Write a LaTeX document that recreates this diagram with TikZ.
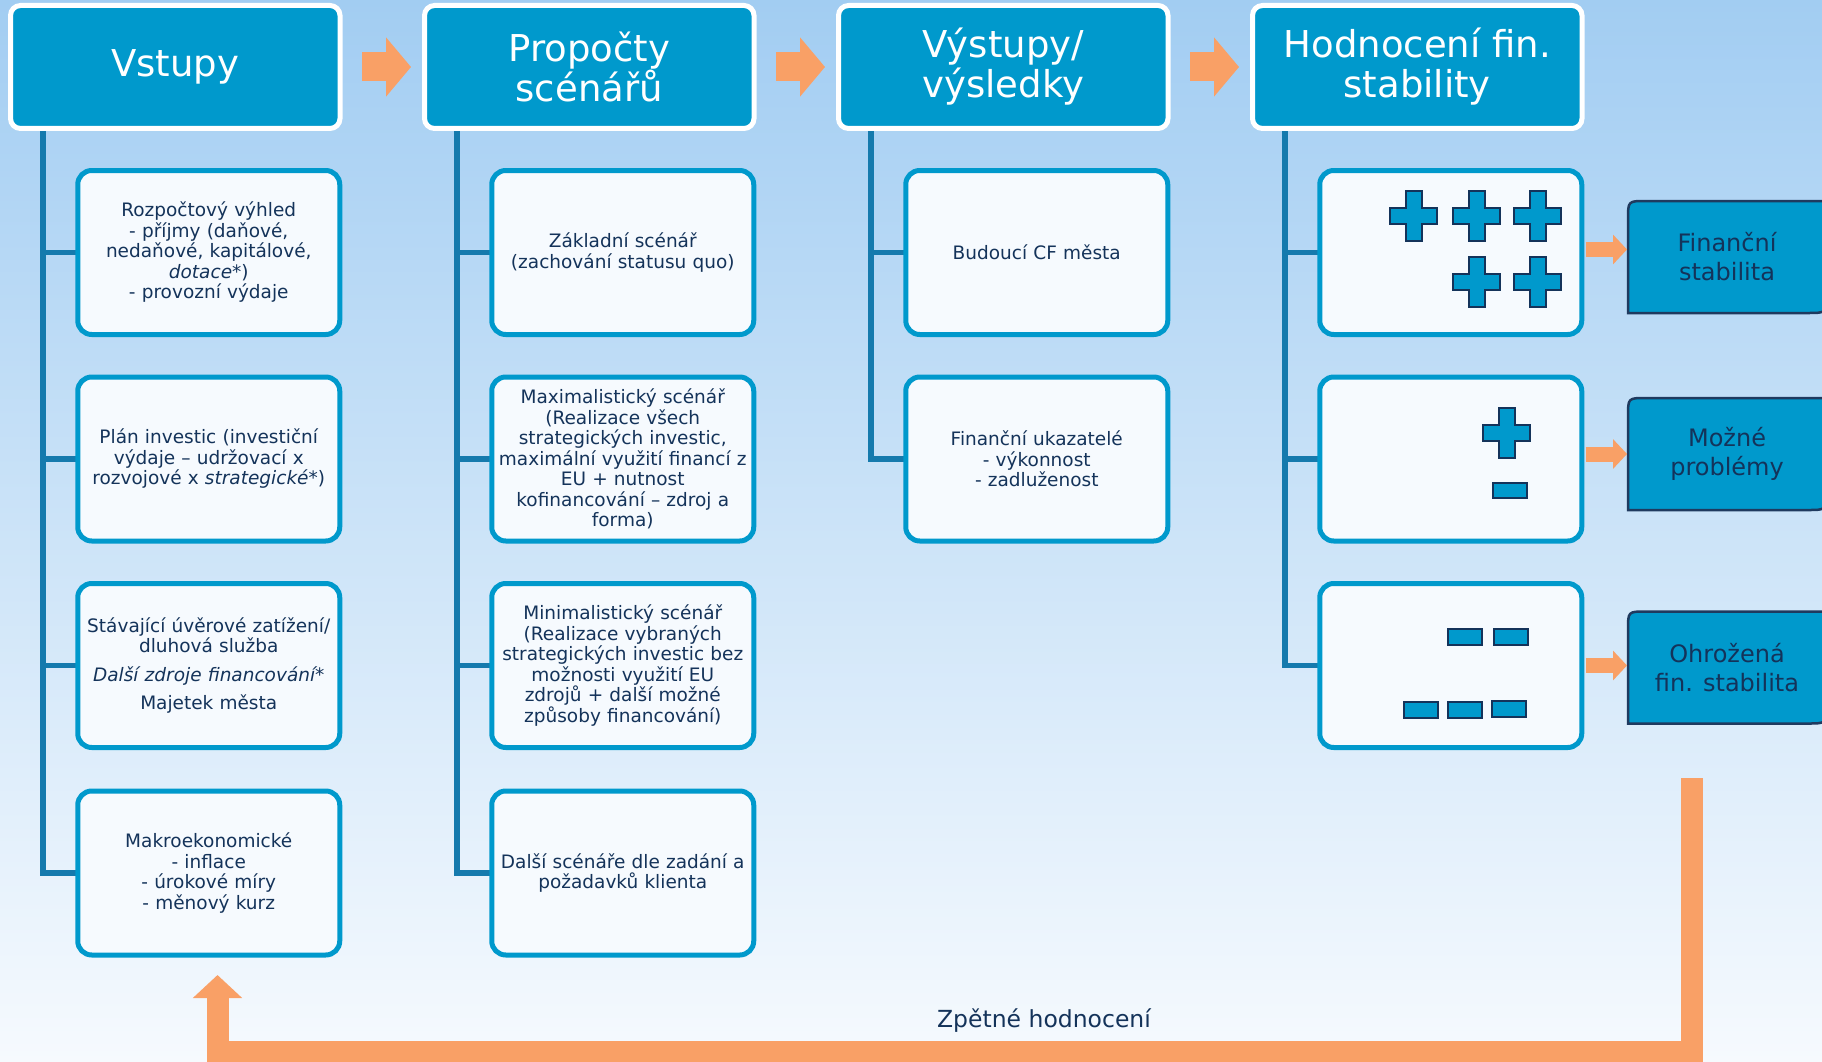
\documentclass[tikz,border=0pt]{standalone}
\usepackage{fontspec}
\setmainfont{DejaVu Sans}
\usetikzlibrary{arrows.meta,calc,backgrounds}
\definecolor{hblue}{HTML}{0099CC}
\definecolor{tline}{HTML}{157AAD}
\definecolor{navy}{HTML}{14335A}
\definecolor{rborder}{HTML}{1F3A5F}
\definecolor{orng}{HTML}{F9A066}
\definecolor{bgtop}{HTML}{A2CDF2}
\definecolor{bgbot}{HTML}{F6FAFE}
\definecolor{boxfill}{HTML}{F6FAFE}
\newcommand\resboxshape[1]{%
  \draw[resline] (#1.south west) -- ([yshift=-18pt]#1.north west)
    .. controls (#1.north west) .. ([xshift=18pt]#1.north west)
    -- (#1.north east) -- ([yshift=18pt]#1.south east)
    .. controls (#1.south east) .. ([xshift=-18pt]#1.south east) -- cycle;}
\newcommand\plusicon[1]{%
  \draw[icon] (#1) ++(-8,-25) -- ++(16,0) -- ++(0,17) -- ++(15.5,0) -- ++(0,16)
    -- ++(-15.5,0) -- ++(0,17) -- ++(-16,0) -- ++(0,-17) -- ++(-15.5,0)
    -- ++(0,-16) -- ++(15.5,0) -- cycle;}
\newcommand\minusicon[1]{%
  \draw[icon] (#1) ++(-17,-7.8) rectangle ++(34,15.6);}
\begin{document}
\begin{tikzpicture}[x=1pt,y=-1pt,
  header/.style={draw=white,fill=hblue,line width=5pt,rounded corners=10pt,
    minimum width=329.5pt,minimum height=123pt,outer sep=0pt,inner sep=0pt,
    align=center,text=white,font=\fontsize{37}{40}\selectfont},
  child/.style={draw=hblue,fill=boxfill,line width=5pt,rounded corners=14pt,
    minimum width=262pt,minimum height=164pt,text width=256pt,inner xsep=0pt,
    outer sep=0pt,align=center,text=navy,font=\fontsize{18.5}{20.5}\selectfont},
  restext/.style={minimum width=198pt,minimum height=112pt,outer sep=0pt,
    inner sep=0pt,align=center,text=navy,font=\fontsize{24}{29}\selectfont},
  resline/.style={draw=rborder,fill=hblue,line width=2.5pt},
  icon/.style={draw=navy,fill=hblue,line width=2pt},
  tree/.style={draw=tline,line width=5.5pt,line join=miter},
  harrow/.style={draw=orng,line width=29pt,-{Triangle[width=58pt,length=25pt]}},
  rarrow/.style={draw=orng,line width=15pt,-{Triangle[width=29pt,length=14pt]}},
  fbarrow/.style={draw=orng,line width=22pt,line join=miter,-{Triangle[width=48pt,length=23pt]}},
  fblab/.style={text=navy,font=\fontsize{23.5}{28}\selectfont,inner sep=0pt}
]
\useasboundingbox (0,0) rectangle (1822,1062);

% headers
\node[header] (h1) at (175.25,67) {\raisebox{-3pt}{Vstupy}};
\node[header] (h2) at (589.25,67) {Propočty\\scénářů};
\node[header] (h3) at (1003.25,67) {Výstupy/\\výsledky};
\node[header] (h4) at (1417.25,67) {Hodnocení fin.\\stability};

% column 1
\node[child] (a1) at (208.75,252.5) {Rozpočtový výhled\\- příjmy (daňové,\\nedaňové, kapitálové,\\\textit{dotace}*)\\- provozní výdaje};
\node[child] (a2) at (208.75,459) {Plán investic (investiční\\výdaje – udržovací x\\rozvojové x \textit{strategické}*)};
\node[child] (a3) at (208.75,665.5) {Stávající úvěrové zatížení/\\dluhová služba\\[8pt]\textit{Další zdroje financování*}\\[8pt]Majetek města};
\node[child] (a4) at (208.75,873) {Makroekonomické\\- inflace\\- úrokové míry\\- měnový kurz};

% column 2
\node[child] (b1) at (622.75,252.5) {Základní scénář\\(zachování statusu quo)};
\node[child] (b2) at (622.75,459) {Maximalistický scénář\\(Realizace všech\\strategických investic,\\maximální využití financí z\\EU + nutnost\\kofinancování – zdroj a\\forma)};
\node[child] (b3) at (622.75,665.5) {Minimalistický scénář\\(Realizace vybraných\\strategických investic bez\\možnosti využití EU\\zdrojů + další možné\\způsoby financování)};
\node[child] (b4) at (622.75,873) {Další scénáře dle zadání a\\požadavků klienta};

% column 3
\node[child] (c1) at (1036.75,252.5) {Budoucí CF města};
\node[child] (c2) at (1036.75,459) {Finanční ukazatelé\\- výkonnost\\- zadluženost};

% column 4
\node[child] (d1) at (1450.75,252.5) {};
\node[child] (d2) at (1450.75,459) {};
\node[child] (d3) at (1450.75,665.5) {};

% results
\node[restext] (r1) at (1727,257) {Finanční\\stabilita};
\node[restext] (r2) at (1727,454) {Možné\\problémy};
\node[restext] (r3) at (1727,667.5) {Ohrožená\\fin. stabilita};

% icons
\plusicon{1413.5,215.7}
\plusicon{1476.5,215.7}
\plusicon{1537.5,215.7}
\plusicon{1476.5,281.7}
\plusicon{1537.5,281.7}
\plusicon{1506.5,433}
\minusicon{1509.5,490.5}
\minusicon{1465,637}
\minusicon{1511,637}
\minusicon{1421,710}
\minusicon{1465,710}
\minusicon{1509,709}

% feedback label
\node[fblab,anchor=base] (fbl) at (1044,1027) {Zpětné hodnocení};

\coordinate (t1) at ($(h1.south west)+(32.5,0)$);
\coordinate (t2) at ($(h2.south west)+(32.5,0)$);
\coordinate (t3) at ($(h3.south west)+(32.5,0)$);
\coordinate (t4) at ($(h4.south west)+(32.5,0)$);
\coordinate (fbstart) at (1692,778);
\coordinate (fbturn) at (217.5,1052);

\begin{scope}[on background layer]
  \shade[top color=bgtop,bottom color=bgbot] (0,0) rectangle (1822,1062);
  \resboxshape{r1}
  \resboxshape{r2}
  \resboxshape{r3}
  % tree lines
  \draw[tree] (t1) |- (a4.west);
  \foreach \n in {a1,a2,a3} \draw[tree] (\n.west -| t1) -- (\n.west);
  \draw[tree] (t2) |- (b4.west);
  \foreach \n in {b1,b2,b3} \draw[tree] (\n.west -| t2) -- (\n.west);
  \draw[tree] (t3) |- (c2.west);
  \draw[tree] (c1.west -| t3) -- (c1.west);
  \draw[tree] (t4) |- (d3.west);
  \foreach \n in {d1,d2} \draw[tree] (\n.west -| t4) -- (\n.west);
  % header arrows
  \draw[harrow,shorten <=22pt,shorten >=13.5pt] (h1.east) -- (h2.west);
  \draw[harrow,shorten <=22pt,shorten >=13.5pt] (h2.east) -- (h3.west);
  \draw[harrow,shorten <=22pt,shorten >=13.5pt] (h3.east) -- (h4.west);
  % result arrows
  \draw[rarrow,shorten <=4pt,shorten >=1pt] ([yshift=3pt]d1.east) -- ([yshift=3pt]d1.east -| r1.west);
  \draw[rarrow,shorten <=4pt,shorten >=1pt] (r2.west -| d2.east) -- (r2.west);
  \draw[rarrow,shorten <=4pt,shorten >=1pt] (d3.east) -- (d3.east -| r3.west);
  % feedback
  \draw[fbarrow] (fbstart) |- (fbturn) -- ($(a4.south)+(8.75,20)$);
\end{scope}
\end{tikzpicture}
\end{document}
